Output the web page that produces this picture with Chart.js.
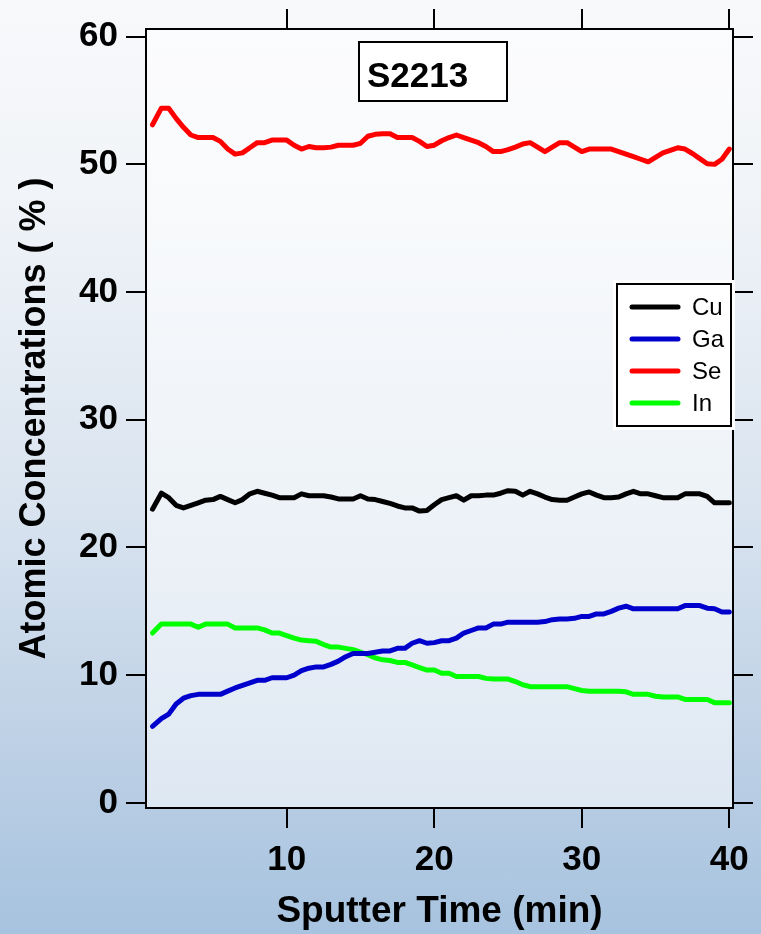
<!DOCTYPE html>
<html><head><meta charset="utf-8">
<script src="https://cdn.jsdelivr.net/npm/chart.js@4.4.0/dist/chart.umd.min.js"></script>
<style>
html,body{margin:0;padding:0;}
body{width:761px;height:934px;overflow:hidden;background:linear-gradient(to bottom,#f8f9fb 0%,#f1f4f8 20%,#d8e3ef 55%,#bdd0e5 80%,#a7c3df 100%);}
canvas{display:block;}
</style></head><body>
<canvas id="c" width="761" height="934"></canvas>
<script>
const sampleName = 'S2213';
const xTitle = 'Sputter Time (min)';
const yTitle = 'Atomic Concentrations ( % )';
const xTicks = [10, 20, 30, 40];
const yTicks = [0, 10, 20, 30, 40, 50, 60];
const seriesLabels = ['Cu', 'Ga', 'Se', 'In'];
const seriesColors = ['#000000', '#0000cc', '#ff0000', '#00ff00'];

const timeMin = [0.9, 1.5, 2.0, 2.5, 3.0, 3.5, 4.0, 4.5, 5.0, 5.5,
  6.0, 6.5, 7.0, 7.5, 8.0, 8.5, 9.0, 9.5, 10.0, 10.5,
  11.0, 11.5, 12.0, 12.5, 13.0, 13.5, 14.0, 14.5, 15.0, 15.5,
  16.0, 16.5, 17.0, 17.5, 18.0, 18.5, 19.0, 19.5, 20.0, 20.5,
  21.0, 21.5, 22.0, 22.5, 23.0, 23.5, 24.0, 24.5, 25.0, 25.5,
  26.0, 26.5, 27.0, 27.5, 28.0, 28.5, 29.0, 29.5, 30.0, 30.5,
  31.0, 31.5, 32.0, 32.5, 33.0, 33.5, 34.0, 34.5, 35.0, 35.5,
  36.0, 36.5, 37.0, 37.5, 38.0, 38.5, 39.0, 39.5, 40.0];

const cu = [23.0, 24.25, 23.9, 23.3, 23.1, 23.3, 23.5, 23.7, 23.75, 24.0,
  23.75, 23.5, 23.75, 24.2, 24.4, 24.25, 24.1, 23.9, 23.9, 23.9,
  24.2, 24.05, 24.05, 24.05, 23.95, 23.8, 23.8, 23.8, 24.05, 23.8,
  23.75, 23.6, 23.45, 23.25, 23.1, 23.1, 22.85, 22.9, 23.35, 23.75,
  23.9, 24.05, 23.7, 24.05, 24.05, 24.1, 24.1, 24.25, 24.45, 24.4,
  24.1, 24.4, 24.2, 23.95, 23.75, 23.7, 23.7, 23.95, 24.2, 24.35,
  24.1, 23.9, 23.9, 23.95, 24.2, 24.4, 24.2, 24.2, 24.05, 23.9,
  23.9, 23.9, 24.2, 24.2, 24.2, 24.0, 23.5, 23.5, 23.5];

const ga = [6.0, 6.6, 6.95, 7.75, 8.2, 8.4, 8.5, 8.5, 8.5, 8.5,
  8.75, 9.0, 9.2, 9.4, 9.6, 9.6, 9.8, 9.8, 9.8, 10.0,
  10.35, 10.55, 10.65, 10.65, 10.85, 11.1, 11.45, 11.7, 11.7, 11.7,
  11.8, 11.9, 11.9, 12.1, 12.1, 12.5, 12.7, 12.5, 12.55, 12.7,
  12.7, 12.9, 13.3, 13.5, 13.7, 13.7, 14.0, 14.0, 14.15, 14.15,
  14.15, 14.15, 14.15, 14.2, 14.35, 14.4, 14.4, 14.45, 14.6, 14.6,
  14.8, 14.8, 15.0, 15.25, 15.4, 15.2, 15.2, 15.2, 15.2, 15.2,
  15.2, 15.2, 15.45, 15.45, 15.45, 15.25, 15.2, 14.95, 14.95];

const se = [53.1, 54.4, 54.4, 53.6, 52.9, 52.3, 52.1, 52.1, 52.1, 51.8,
  51.2, 50.8, 50.9, 51.3, 51.7, 51.7, 51.9, 51.9, 51.9, 51.5,
  51.2, 51.4, 51.3, 51.3, 51.35, 51.5, 51.5, 51.5, 51.65, 52.2,
  52.35, 52.4, 52.4, 52.1, 52.1, 52.1, 51.8, 51.4, 51.5, 51.85,
  52.1, 52.3, 52.1, 51.9, 51.7, 51.4, 51.0, 51.0, 51.15, 51.35,
  51.6, 51.7, 51.35, 51.0, 51.35, 51.7, 51.7, 51.35, 51.0, 51.2,
  51.2, 51.2, 51.2, 51.0, 50.8, 50.6, 50.4, 50.2, 50.55, 50.9,
  51.1, 51.3, 51.2, 50.85, 50.45, 50.05, 50.0, 50.4, 51.2];

const inn = [13.3, 14.0, 14.0, 14.0, 14.0, 14.0, 13.75, 14.0, 14.0, 14.0,
  14.0, 13.7, 13.7, 13.7, 13.7, 13.55, 13.3, 13.3, 13.1, 12.9,
  12.75, 12.7, 12.65, 12.4, 12.2, 12.2, 12.1, 12.0, 11.8, 11.6,
  11.35, 11.2, 11.15, 11.0, 11.0, 10.8, 10.6, 10.4, 10.4, 10.15,
  10.15, 9.9, 9.9, 9.9, 9.9, 9.75, 9.7, 9.7, 9.7, 9.5,
  9.25, 9.1, 9.1, 9.1, 9.1, 9.1, 9.1, 8.95, 8.8, 8.75,
  8.75, 8.75, 8.75, 8.75, 8.7, 8.5, 8.5, 8.5, 8.35, 8.3,
  8.3, 8.3, 8.1, 8.1, 8.1, 8.1, 7.85, 7.85, 7.85];

const seriesValues = [cu, ga, se, inn];
const FONT = "'Liberation Sans', Arial, Helvetica, sans-serif";

const datasets = seriesLabels.map((lab, i) => ({
  label: lab,
  data: timeMin.map((t, j) => ({ x: t, y: seriesValues[i][j] })),
  borderColor: seriesColors[i],
  backgroundColor: seriesColors[i],
  borderWidth: 5,
  pointRadius: 0,
  tension: 0,
  borderJoinStyle: 'round',
  borderCapStyle: 'round',
  fill: false
}));

const gridOpts = { drawOnChartArea: false, drawTicks: true, tickLength: 20, color: '#000', lineWidth: 2 };
const borderOpts = { display: true, color: '#000', width: 2 };
const tickFont = { family: FONT, size: 35, weight: 'bold' };
const setX = s => { s.ticks = xTicks.map(v => ({ value: v })); };
const setY = s => { s.ticks = yTicks.map(v => ({ value: v })); };

const plotBg = {
  id: 'plotBg',
  beforeDraw(chart) {
    const { ctx, chartArea: a } = chart;
    ctx.save();
    ctx.fillStyle = 'rgba(255,255,255,0.55)';
    ctx.fillRect(a.left, a.top, a.right - a.left, a.bottom - a.top);
    ctx.restore();
  }
};

const boxes = {
  id: 'boxes',
  afterDraw(chart) {
    const ctx = chart.ctx;
    ctx.save();
    ctx.fillStyle = '#ffffff';
    ctx.fillRect(359, 42, 148, 59);
    ctx.strokeStyle = '#000';
    ctx.lineWidth = 2;
    ctx.strokeRect(359, 42, 148, 59);
    ctx.fillStyle = '#000';
    ctx.font = 'bold 35px ' + FONT;
    ctx.textAlign = 'left';
    ctx.textBaseline = 'alphabetic';
    ctx.fillText(sampleName, 367, 87);
    ctx.fillStyle = '#ffffff';
    ctx.fillRect(613, 280, 122, 150);
    ctx.strokeRect(617, 284, 114, 142);
    ctx.font = '24px ' + FONT;
    ctx.textBaseline = 'middle';
    chart.data.datasets.forEach((ds, i) => {
      const y = 307 + 32 * i;
      ctx.strokeStyle = ds.borderColor;
      ctx.lineWidth = 5;
      ctx.lineCap = 'round';
      ctx.beginPath();
      ctx.moveTo(632, y);
      ctx.lineTo(678, y);
      ctx.stroke();
      ctx.fillStyle = '#000';
      ctx.fillText(ds.label, 692, y + 1);
    });
    ctx.restore();
  }
};

new Chart(document.getElementById('c'), {
  type: 'line',
  data: { datasets },
  plugins: [plotBg, boxes],
  options: {
    responsive: false,
    animation: false,
    devicePixelRatio: 1,
    layout: { padding: 0 },
    plugins: { legend: { display: false }, tooltip: { enabled: false }, title: { display: false } },
    scales: {
      x: {
        type: 'linear', axis: 'x', position: 'bottom', min: 0.46, max: 40.25,
        afterBuildTicks: setX, afterFit: s => { s.height = 126; },
        grid: gridOpts, border: borderOpts,
        ticks: { font: tickFont, color: '#000', padding: 11, maxRotation: 0 },
        title: { display: true, text: xTitle, font: { family: FONT, size: 37, weight: 'bold' }, color: '#000', padding: { top: 0, bottom: 0 } }
      },
      x2: {
        type: 'linear', axis: 'x', position: 'top', min: 0.46, max: 40.25,
        afterBuildTicks: setX, afterFit: s => { s.height = 27; },
        grid: gridOpts, border: borderOpts, ticks: { display: false }
      },
      y: {
        type: 'linear', axis: 'y', position: 'left', min: -0.4, max: 60.6,
        afterBuildTicks: setY, afterFit: s => { s.width = 146; },
        grid: gridOpts, border: borderOpts,
        ticks: { font: tickFont, color: '#000', padding: 8 },
        title: { display: true, text: yTitle, font: { family: FONT, size: 36, weight: 'bold' }, color: '#000', padding: { top: 13, bottom: 0 } }
      },
      y2: {
        type: 'linear', axis: 'y', position: 'right', min: -0.4, max: 60.6,
        afterBuildTicks: setY, afterFit: s => { s.width = 28; },
        grid: gridOpts, border: borderOpts, ticks: { display: false }
      }
    }
  }
});
</script>
</body></html>
